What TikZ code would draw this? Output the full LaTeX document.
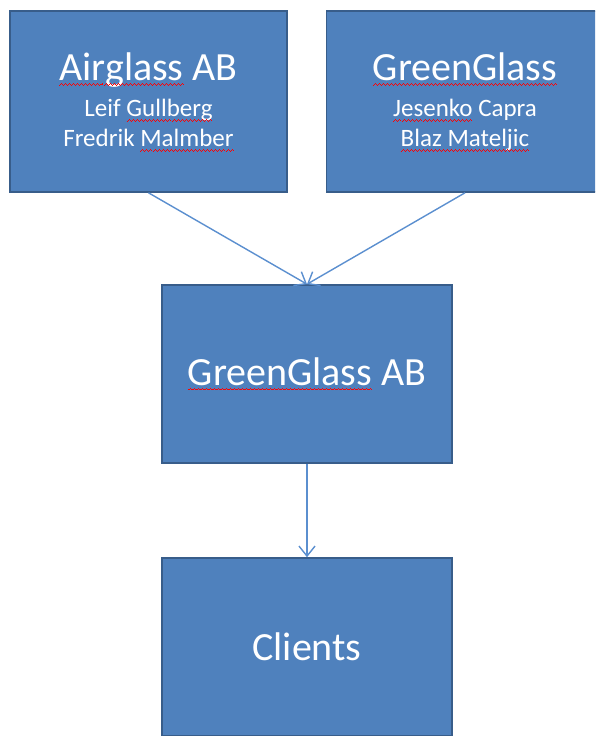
\documentclass[tikz,border=0pt]{standalone}
\usepackage{fontspec}
\setmainfont{Carlito}
\usetikzlibrary{arrows.meta}

\definecolor{boxfill}{HTML}{4F81BD}
\definecolor{boxline}{HTML}{385D8A}
\definecolor{linkblue}{HTML}{5B8FCF}

% red wavy spell-check underline
\newsavebox{\spellbox}
\newcommand{\wavepiece}{\rule[-5pt]{1pt}{0.9pt}\rule[-4.2pt]{1pt}{0.9pt}\rule[-3.4pt]{1pt}{0.9pt}\rule[-4.2pt]{1pt}{0.9pt}}
\newcommand{\spellwave}[1]{\sbox{\spellbox}{#1}\usebox{\spellbox}\llap{\color{red}\hbox to \wd\spellbox{\xleaders\hbox{\wavepiece}\hfil}}}

\begin{document}
\begin{tikzpicture}

  \tikzset{
    box/.style={
      rectangle,
      draw=boxline,
      fill=boxfill,
      line width=1.6pt,
      text=white,
      align=center,
      inner sep=0pt,
      font=\fontsize{25}{30}\selectfont
    },
    topbox/.style={box, minimum width=277pt, minimum height=181pt},
    midbox/.style={box, minimum width=290pt, minimum height=178pt},
    link/.style={linkblue, line width=1.4pt, -{Straight Barb[length=10pt,width=16pt]}}
  }

  \useasboundingbox (0pt,0pt) rectangle (595pt,736pt);
  \clip (0pt,0pt) rectangle (595pt,736pt);

  \node[topbox, text depth=3pt] (airglass) at (148.5pt, 634.5pt)
    {{\fontsize{40}{40}\selectfont\spellwave{Airglass} AB}\\[6pt]
     Leif \spellwave{Gullberg}\\ Fredrik \spellwave{Malmber}};
  \node[topbox, text depth=3pt] (greenglass) at (465pt, 634.5pt)
    {{\fontsize{40}{40}\selectfont\spellwave{GreenGlass}}\\[6pt]
     \spellwave{Jesenko} Capra\\ \spellwave{Blaz Mateljic}};
  \node[midbox] (greenab) at (307pt, 362pt)
    {\fontsize{40}{40}\selectfont\spellwave{GreenGlass} AB};
  \node[midbox] (clients) at (307pt, 89pt)
    {\fontsize{40}{40}\selectfont Clients};

  \draw[link] (airglass.south) -- (greenab.north);
  \draw[link] (greenglass.south) -- (greenab.north);
  \draw[link] (greenab.south) -- (clients.north);

\end{tikzpicture}
\end{document}
